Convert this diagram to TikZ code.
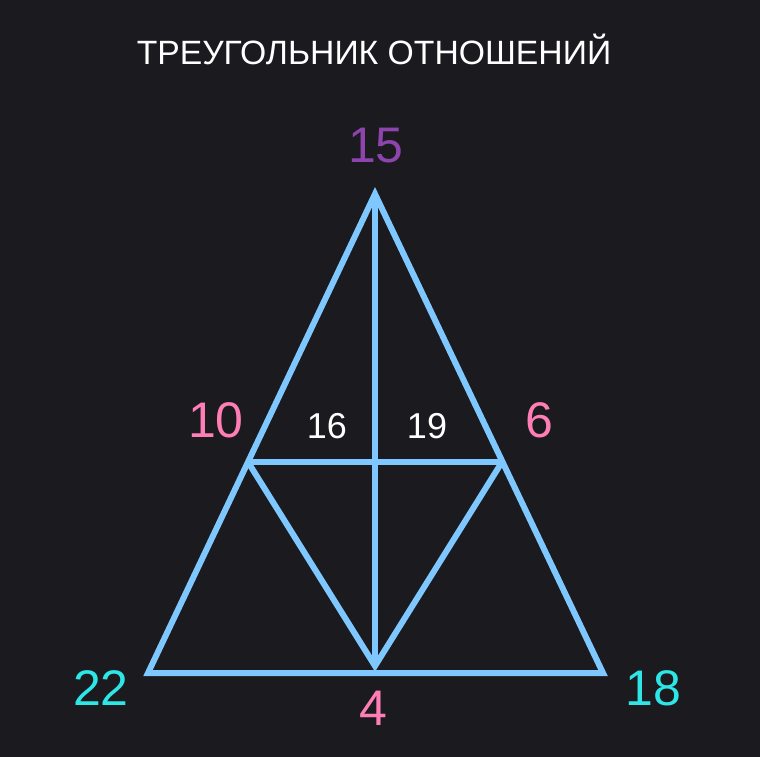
\documentclass[tikz,border=0pt]{standalone}
\usepackage{fontspec}
\setmainfont{Liberation Sans}
\definecolor{bg}{HTML}{1A1A1F}
\definecolor{edge}{HTML}{7EC8FF}
\definecolor{purp}{HTML}{8E44AD}
\definecolor{pinkc}{HTML}{FF7EB6}
\definecolor{cyanc}{HTML}{2EE6E6}
\tikzset{
  edgeline/.style={draw=edge, line width=6bp, line join=miter, miter limit=10},
  bignum/.style={inner sep=0pt, anchor=base, font=\fontsize{50bp}{60bp}\selectfont},
  smallnum/.style={inner sep=0pt, anchor=base, text=white, font=\fontsize{36bp}{43bp}\selectfont},
  titletext/.style={inner sep=0pt, anchor=base, text=white, font=\fontsize{33.7bp}{40bp}\selectfont}
}
\begin{document}
\begin{tikzpicture}[x=1bp,y=-1bp]
\fill[bg] (0,0) rectangle (760,757);
\useasboundingbox (0,0) rectangle (760,757);
\coordinate (A) at (375,194);
\coordinate (B) at (148,673);
\coordinate (C) at (603,673);
\coordinate (L) at (248,462);
\coordinate (R) at (502,462);
\coordinate (D) at (375,666);
\draw[edgeline] (A) -- (B) -- (C) -- cycle;
\draw[edgeline] (L) -- (R);
\draw[edgeline] (L) -- (D) -- (R);
\draw[edgeline, line width=5.5bp] (A) -- (D);
\node[titletext] (title) at (374,65) {ТРЕУГОЛЬНИК ОТНОШЕНИЙ};
\node[bignum, text=purp] (n15) at (376,162) {15};
\node[bignum, text=pinkc] (n10) at (216,437) {10};
\node[bignum, text=pinkc] (n6) at (539,437) {6};
\node[bignum, text=pinkc] (n4) at (373,725) {4};
\node[bignum, text=cyanc] (n22) at (101,705) {22};
\node[bignum, text=cyanc] (n18) at (653,705) {18};
\node[smallnum] (n16) at (327,438) {16};
\node[smallnum] (n19) at (427,438) {19};
\end{tikzpicture}
\end{document}
